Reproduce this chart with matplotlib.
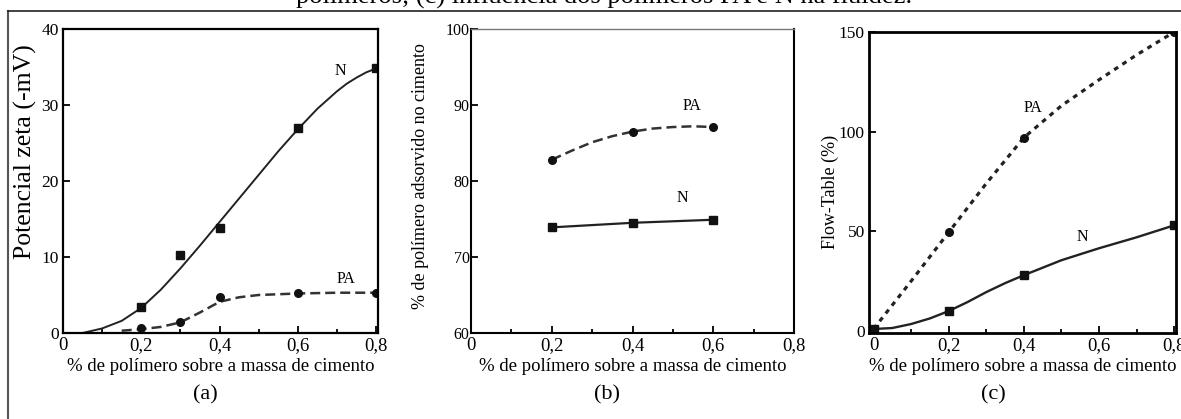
import numpy as np
import matplotlib.pyplot as plt
from matplotlib.ticker import FuncFormatter, MultipleLocator

plt.rcParams['font.family'] = ['Liberation Serif', 'DejaVu Serif']

# (a) potencial zeta
a_x_pts = [0.2, 0.3, 0.4, 0.6, 0.8]
a_N_pts = [3.4, 10.3, 13.8, 27.0, 34.9]
a_PA_pts = [0.7, 1.5, 4.8, 5.2, 5.3]
a_N_curve_x = [0.0, 0.05, 0.1, 0.15, 0.2, 0.25, 0.3, 0.35, 0.4, 0.45, 0.5, 0.55, 0.6, 0.65, 0.7, 0.725, 0.75, 0.775, 0.8]
a_N_curve_y = [0.0, 0.0, 0.6, 1.6, 3.3, 5.7, 8.5, 11.5, 14.6, 17.7, 20.8, 23.9, 26.8, 29.5, 31.8, 32.8, 33.6, 34.3, 34.8]
a_PA_curve_x = [0.15, 0.2, 0.25, 0.3, 0.35, 0.4, 0.45, 0.5, 0.55, 0.6, 0.7, 0.8]
a_PA_curve_y = [0.3, 0.5, 0.8, 1.4, 2.7, 4.1, 4.7, 5.0, 5.1, 5.2, 5.3, 5.3]

# (b) polimero adsorvido
b_x_pts = [0.2, 0.4, 0.6]
b_PA_pts = [82.8, 86.5, 87.1]
b_N_pts = [73.9, 74.5, 74.9]
b_PA_curve_x = [0.2, 0.25, 0.3, 0.35, 0.4, 0.45, 0.5, 0.55, 0.6]
b_PA_curve_y = [82.8, 84.0, 85.1, 85.9, 86.5, 86.9, 87.1, 87.2, 87.1]

# (c) flow-table
c_x_pts = [0.0, 0.2, 0.4, 0.8]
c_PA_pts = [1.0, 49.5, 97.0, 150.0]
c_N_pts = [1.0, 10.0, 28.0, 53.0]
c_PA_curve_x = [0.0, 0.1, 0.2, 0.3, 0.4, 0.5, 0.6, 0.7, 0.8]
c_PA_curve_y = [1.0, 25.0, 49.5, 74.0, 97.0, 113.0, 126.0, 138.5, 150.0]
c_N_curve_x = [0.0, 0.05, 0.1, 0.15, 0.2, 0.25, 0.3, 0.35, 0.4, 0.5, 0.6, 0.7, 0.8]
c_N_curve_y = [1.0, 1.5, 3.5, 6.3, 10.0, 14.5, 19.5, 24.0, 28.0, 35.5, 41.5, 47.0, 53.0]

xlabel = '% de polímero sobre a massa de cimento'
comma = FuncFormatter(lambda v, p: '0' if abs(v) < 1e-9 else ('%.1f' % v).replace('.', ','))

fig = plt.figure(figsize=(11.81, 4.19), dpi=100)

# moldura da figura e legenda cortada no topo
fig.add_artist(plt.Line2D([8/1181, 8/1181], [0, 1 - 11/419], color='#555555', lw=1.5))
fig.add_artist(plt.Line2D([8/1181, 1], [1 - 11/419, 1 - 11/419], color='#222222', lw=1.2))
fig.text(604/1181, 1 - 4/419, 'polímeros; (c) influência dos polímeros PA e N na fluidez.',
         ha='center', va='baseline', fontsize=19)

def style(ax, ylim, yticks, lw):
    ax.xaxis.set_major_locator(MultipleLocator(0.2))
    ax.xaxis.set_minor_locator(MultipleLocator(0.1))
    ax.xaxis.set_major_formatter(comma)
    ax.set_ylim(*ylim)
    ax.set_yticks(yticks)
    ax.tick_params(which='both', direction='in', pad=3)
    ax.tick_params(axis='x', labelsize=13.5)
    ax.tick_params(axis='y', labelsize=12.5)
    ax.tick_params(which='major', length=5, width=1.3)
    ax.tick_params(which='minor', length=3, width=1.3)
    for s in ax.spines.values():
        s.set_linewidth(lw)
    ax.set_xlabel(xlabel, fontsize=13.5, labelpad=3)

# painel (a)
ax1 = fig.add_axes([63/1181, 86/419, 315/1181, 304/419])
ax1.plot(a_N_curve_x, a_N_curve_y, color='#222222', lw=1.4)
ax1.plot(a_x_pts, a_N_pts, 's', color='#111111', ms=6, ls='none')
ax1.plot(a_PA_curve_x, a_PA_curve_y, color='#333333', lw=1.8, ls=(0, (4, 2)))
ax1.plot(a_x_pts, a_PA_pts, 'o', color='#111111', ms=5.5, ls='none')
ax1.set_xlim(0, 0.805)
style(ax1, (0, 40), [0, 10, 20, 30, 40], 1.6)
ax1.set_ylabel('Potencial zeta (-mV)', fontsize=18.5)
ax1.yaxis.set_label_coords(-26/315, 0.595)
ax1.text(0.693, 34, 'N', fontsize=11.5)
ax1.text(0.70, 6.6, 'PA', fontsize=11.5)
fig.text(205/1181, 1 - 395/419, '(a)', ha='center', va='center', fontsize=16)

# painel (b)
ax2 = fig.add_axes([471/1181, 86/419, 323/1181, 304/419])
ax2.plot(b_PA_curve_x, b_PA_curve_y, color='#333333', lw=1.8, ls=(0, (4, 2)))
ax2.plot(b_x_pts, b_PA_pts, 'o', color='#111111', ms=5.5, ls='none')
ax2.plot(b_x_pts, b_N_pts, color='#222222', lw=1.6)
ax2.plot(b_x_pts, b_N_pts, 's', color='#111111', ms=6, ls='none')
ax2.set_xlim(0, 0.8)
style(ax2, (60, 100), [60, 70, 80, 90, 100], 1.5)
ax2.spines['top'].set_color('#777777')
ax2.spines['top'].set_linewidth(1.0)
ax2.set_ylabel('% de polímero adsorvido no cimento', fontsize=13)
ax2.yaxis.set_label_coords(-42/323, 0.515)
ax2.tick_params(axis='y', labelsize=11.5, pad=1)
ax2.text(0.525, 89.3, 'PA', fontsize=11.5)
ax2.text(0.51, 77.3, 'N', fontsize=11.5)
fig.text(607/1181, 1 - 395/419, '(b)', ha='center', va='center', fontsize=16)

# painel (c)
ax3 = fig.add_axes([869/1181, 86/419, 307/1181, 301/419])
ax3.plot(c_PA_curve_x, c_PA_curve_y, color='#222222', lw=2.3, ls=(0, (1.5, 1.6)))
ax3.plot(c_x_pts, c_PA_pts, 'o', color='#111111', ms=5.5, ls='none')
ax3.plot(c_N_curve_x, c_N_curve_y, color='#222222', lw=1.7)
ax3.plot(c_x_pts, c_N_pts, 's', color='#111111', ms=5.5, ls='none')
ax3.set_xlim(-0.012, 0.805)
style(ax3, (-1, 150), [0, 50, 100, 150], 2.0)
ax3.set_ylabel('Flow-Table (%)', fontsize=13)
ax3.yaxis.set_label_coords(-30/307, 0.47)
ax3.text(0.40, 110, 'PA', fontsize=11.5)
ax3.text(0.54, 45, 'N', fontsize=11.5)
fig.text(993/1181, 1 - 395/419, '(c)', ha='center', va='center', fontsize=16)

fig.savefig('out.png', dpi=100)
